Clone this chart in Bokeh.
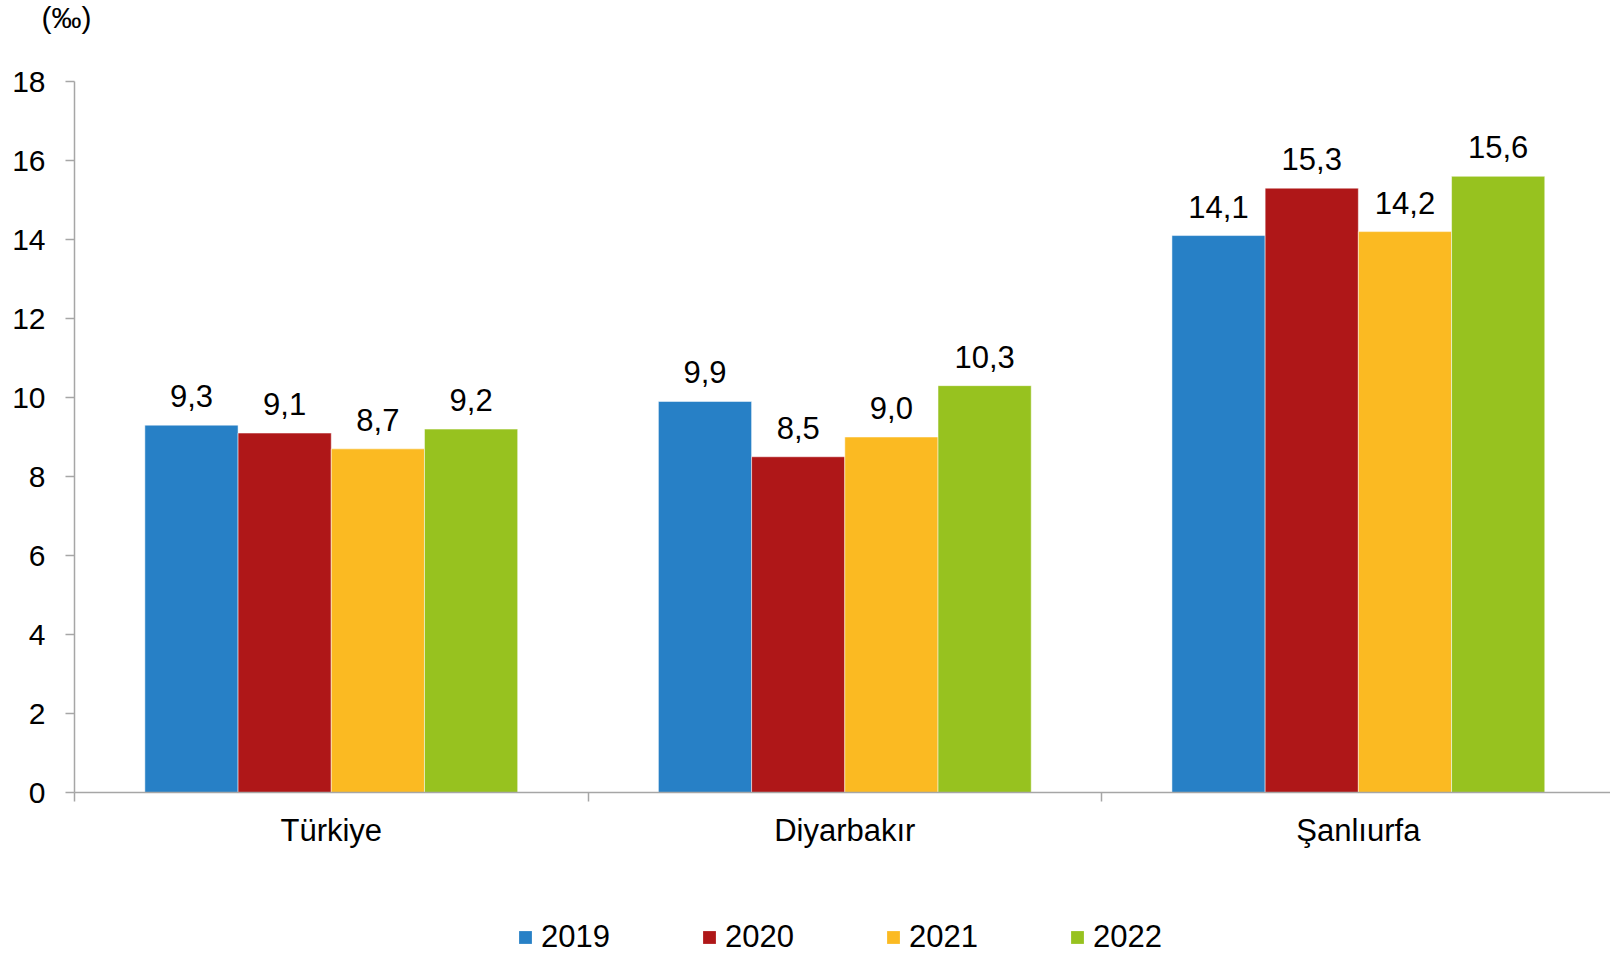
from bokeh.plotting import figure
from bokeh.layouts import column
from bokeh.models import (ColumnDataSource, Range1d, FixedTicker, LabelSet,
                          Legend, LegendItem)
from bokeh.core.properties import value
from bokeh.embed import file_html
from bokeh.resources import INLINE

# ---- data ----
categories = ["Türkiye", "Diyarbakır", "Şanlıurfa"]
years = ["2019", "2020", "2021", "2022"]
v2019 = [9.3, 9.9, 14.1]
v2020 = [9.1, 8.5, 15.3]
v2021 = [8.7, 9.0, 14.2]
v2022 = [9.2, 10.3, 15.6]
y_ticks = [0, 2, 4, 6, 8, 10, 12, 14, 16, 18]
unit_label = "(‰)"

series = [v2019, v2020, v2021, v2022]
colors = ["#2780C6", "#AF1718", "#FBBA22", "#97C21F"]
FONT = "Liberation Sans"
FS = "31px"

bar_w = 0.1815
offsets = [-1.5 * bar_w, -0.5 * bar_w, 0.5 * bar_w, 1.5 * bar_w]

# strip on top holding the unit label
pt = figure(width=1610, height=63, output_backend="svg", toolbar_location=None,
            x_axis_type=None, y_axis_type=None,
            min_border_left=0, min_border_right=0, min_border_top=0,
            min_border_bottom=0)
pt.outline_line_color = None
pt.grid.grid_line_color = None
pt.title.text = unit_label
pt.title.align = "left"
pt.title.offset = -33
pt.title.vertical_align = "top"
pt.title.standoff = 0
pt.title.text_font = FONT
pt.title.text_font_size = "30px"
pt.title.text_font_style = "normal"
pt.title.text_color = "black"

# main chart
p = figure(width=1610, height=817, output_backend="svg", toolbar_location=None,
           x_range=Range1d(0, 2.991), y_range=Range1d(0, 18),
           min_border_left=74, min_border_right=0, min_border_top=18,
           min_border_bottom=88)
p.outline_line_color = None
p.grid.grid_line_color = None
p.background_fill_color = "white"
p.border_fill_color = "white"

# legend strip below the chart
pl = figure(width=1610, height=75, output_backend="svg", toolbar_location=None,
            x_range=Range1d(0, 2.991), y_range=Range1d(0, 18),
            x_axis_type=None, y_axis_type=None,
            min_border_left=0, min_border_right=0, min_border_top=0,
            min_border_bottom=0)
pl.outline_line_color = None
pl.grid.grid_line_color = None

sources = []
for vals, col, off in zip(series, colors, offsets):
    xs = [i + 0.5 + off for i in range(len(categories))]
    src = ColumnDataSource(dict(x=xs, top=vals,
                                label=[f"{v:.1f}".replace(".", ",") for v in vals]))
    sources.append(src)
    p.vbar(x="x", top="top", width=bar_w, bottom=0, source=src,
           fill_color=col, line_color="white", line_alpha=0.5, line_width=1)
    lbl = LabelSet(x="x", y="top", text="label", source=src, y_offset=18,
                   text_align="center", text_baseline="alphabetic",
                   text_font=value(FONT), text_font_size=value(FS),
                   text_color="black")
    p.add_layout(lbl)

items = []
for src, year, col in zip(sources, years, colors):
    r = pl.vbar(x="x", top="top", width=bar_w, bottom=0, source=src,
                fill_color=col, line_color=None, visible=False)
    items.append(LegendItem(label=year, renderers=[r]))

# y axis
ya = p.yaxis[0]
ya.ticker = FixedTicker(ticks=y_ticks, minor_ticks=[])
ya.axis_line_color = "#A6A6A6"
ya.axis_line_width = 1.5
ya.major_tick_line_color = "#A6A6A6"
ya.major_tick_line_width = 1.5
ya.major_tick_out = 9
ya.major_tick_in = 0
ya.minor_tick_line_color = None
ya.major_label_standoff = 20
ya.major_label_text_font = FONT
ya.major_label_text_font_size = "30px"
ya.major_label_text_color = "black"

# x axis
xa = p.xaxis[0]
xa.ticker = FixedTicker(ticks=[i + 0.5 for i in range(len(categories))],
                        minor_ticks=list(range(len(categories) + 1)))
xa.major_label_overrides = {i + 0.5: c for i, c in enumerate(categories)}
xa.axis_line_color = "#A6A6A6"
xa.axis_line_width = 1.5
xa.major_tick_line_color = None
xa.major_tick_out = 0
xa.major_tick_in = 0
xa.minor_tick_line_color = "#A6A6A6"
xa.minor_tick_line_width = 1.5
xa.minor_tick_out = 9
xa.minor_tick_in = 0
xa.major_label_standoff = 11
xa.major_label_text_font = FONT
xa.major_label_text_font_size = FS
xa.major_label_text_color = "black"

p.title.text = ""

legend = Legend(items=items, location=(443, 0), orientation="horizontal",
                label_text_font=FONT, label_text_font_size=FS,
                label_text_color="black", glyph_width=16, glyph_height=16,
                label_standoff=8, spacing=91, padding=0, margin=0,
                border_line_color=None, background_fill_alpha=0,
                inactive_fill_alpha=0)
pl.add_layout(legend)

layout = column(pt, p, pl, spacing=0)
open("out.html", "w").write(file_html(layout, INLINE))
